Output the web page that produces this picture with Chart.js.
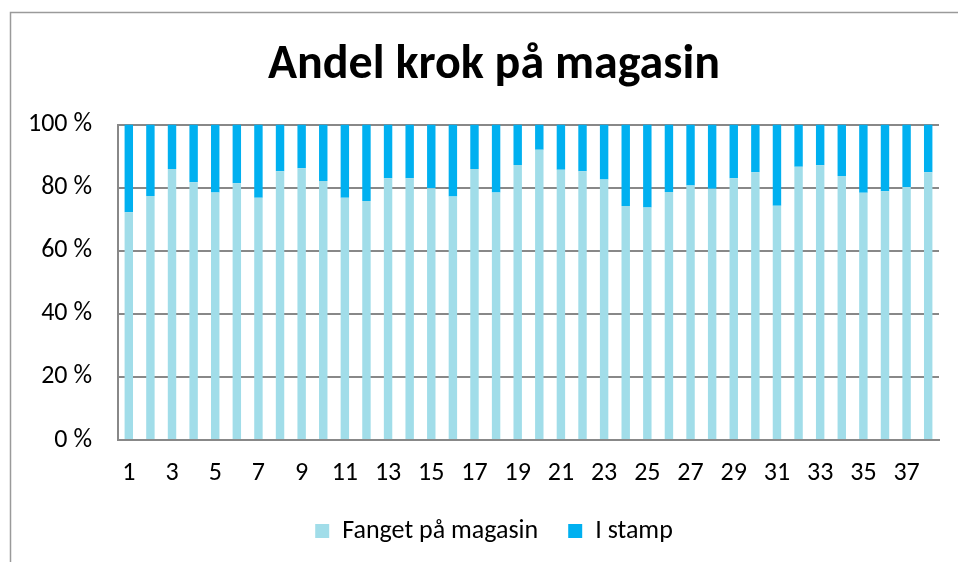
<!DOCTYPE html>
<html>
<head>
<meta charset="utf-8">
<script src="https://cdn.jsdelivr.net/npm/chart.js@4/dist/chart.umd.min.js"></script>
<style>
  html, body { margin: 0; padding: 0; background: #ffffff; }
  #wrap { width: 958px; height: 562px; position: relative; }
</style>
</head>
<body>
<div id="wrap"><canvas id="c" width="958" height="562"></canvas></div>
<script>
const titleText = "Andel krok på magasin";
const categories = ["1","2","3","4","5","6","7","8","9","10","11","12","13","14","15","16","17","18","19","20","21","22","23","24","25","26","27","28","29","30","31","32","33","34","35","36","37","38"];
const fangetPaMagasin = [72.2,77.4,85.9,81.7,78.5,81.4,76.8,85.2,86.2,82.1,76.8,75.8,83.0,83.0,79.8,77.2,85.9,78.5,87.2,92.0,85.7,85.2,82.6,74.2,73.7,78.6,80.7,79.7,83.0,84.9,74.3,86.6,87.1,83.7,78.4,78.9,80.2,84.9];
const iStamp = [27.8,22.6,14.1,18.3,21.5,18.6,23.2,14.8,13.8,17.9,23.2,24.2,17.0,17.0,20.2,22.8,14.1,21.5,12.8,8.0,14.3,14.8,17.4,25.8,26.3,21.4,19.3,20.3,17.0,15.1,25.7,13.4,12.9,16.3,21.6,21.1,19.8,15.1];
const yTicks = [0,20,40,60,80,100];
const seriesNames = ["Fanget på magasin","I stamp"];

const FONT = "Carlito, Lato, 'Liberation Sans', sans-serif";

const frame = {
  id: 'frame',
  afterLayout(chart) {
    // widen the y-axis label clip box so labels can sit in the left padding
    chart.scales.y.left = 0;
  },
  beforeDraw(chart) {
    const ctx = chart.ctx;
    ctx.save();
    ctx.fillStyle = '#ffffff';
    ctx.fillRect(0, 0, chart.width, chart.height);
    ctx.strokeStyle = '#9a9a9a';
    ctx.lineWidth = 1.5;
    ctx.beginPath();
    ctx.moveTo(10.5, chart.height);
    ctx.lineTo(10.5, 12.5);
    ctx.lineTo(chart.width, 12.5);
    ctx.stroke();
    ctx.restore();
  }
};

new Chart(document.getElementById('c'), {
  type: 'bar',
  data: {
    labels: categories,
    datasets: [
      { label: seriesNames[0], data: fangetPaMagasin, backgroundColor: '#A1DDE9', borderWidth: 0,
        barPercentage: 0.39, categoryPercentage: 1 },
      { label: seriesNames[1], data: iStamp, backgroundColor: '#00B0F0', borderWidth: 0,
        barPercentage: 0.39, categoryPercentage: 1 }
    ]
  },
  options: {
    responsive: false,
    animation: false,
    layout: { padding: { left: 49, right: 19, top: 0, bottom: 8 } },
    plugins: {
      title: {
        display: true, text: titleText, color: '#000000',
        font: { family: FONT, size: 48, weight: 'bold', lineHeight: 1.2 },
        padding: { top: 37, bottom: 30 }
      },
      legend: {
        display: true, position: 'bottom',
        labels: { color: '#000000', font: { family: FONT, size: 26 }, boxWidth: 14, boxHeight: 14, padding: 30 }
      },
      tooltip: { enabled: false }
    },
    scales: {
      x: {
        stacked: true,
        grid: { display: false, drawTicks: false },
        border: { display: true, color: '#888888', width: 2 },
        ticks: {
          color: '#000000', font: { family: FONT, size: 26 }, padding: 18,
          autoSkip: false, maxRotation: 0, minRotation: 0,
          callback: function(v, i) { return i % 2 === 0 ? categories[i] : ''; }
        },
        afterFit(scale) { scale.height = 48; }
      },
      y: {
        stacked: true, min: 0, max: 100,
        afterBuildTicks(scale) { scale.ticks = yTicks.map(v => ({ value: v })); },
        grid: { color: '#888888', lineWidth: 2, drawTicks: false },
        border: { display: true, color: '#888888', width: 2 },
        ticks: {
          color: '#000000', font: { family: FONT, size: 26 }, padding: 26,
          callback: function(v) { return v + ' %'; }
        },
        afterFit(scale) { scale.width = 69; }
      }
    }
  },
  plugins: [frame]
});
</script>
</body>
</html>
